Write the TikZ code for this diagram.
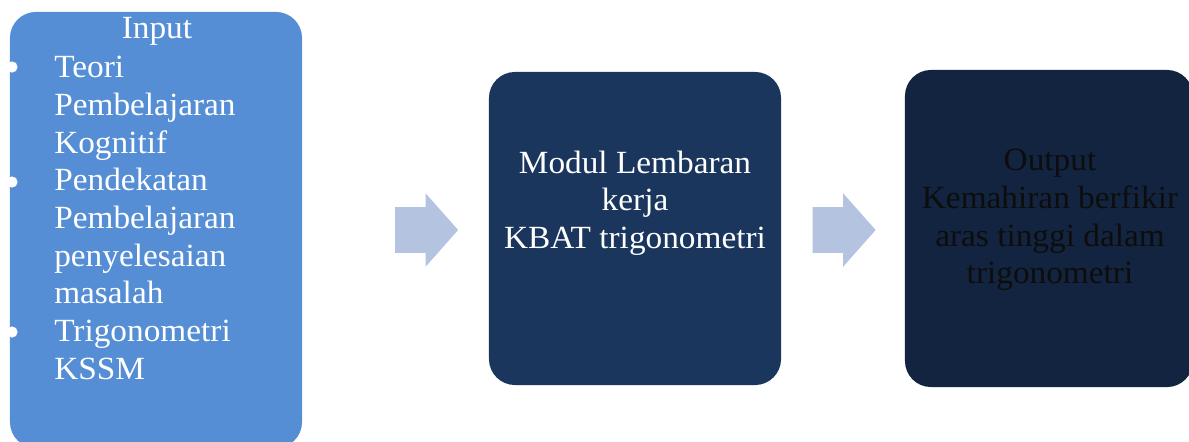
\documentclass[tikz,border=0pt]{standalone}
\usepackage{fontspec}
\setmainfont{Liberation Serif}[FakeStretch=1.03]
\usetikzlibrary{positioning,shapes.arrows}
\definecolor{inputblue}{HTML}{558ED5}
\definecolor{modulnavy}{HTML}{1B365D}
\definecolor{outputnavy}{HTML}{12243F}
\definecolor{flowblue}{HTML}{B3C3E0}
\definecolor{darktext}{HTML}{0D0D0D}

\begin{document}
\begin{tikzpicture}[
    x=0.025cm, y=-0.025cm,
    font=\fontsize{23}{26.8}\selectfont,
    stage/.style={rectangle, rounded corners=0.65cm, inner sep=0pt, draw=none},
    flow/.style={single arrow, fill=flowblue, draw=none, inner xsep=0pt, inner ysep=0.5625cm, minimum height=1.575cm, single arrow head extend=0.35cm, single arrow tip angle=97},
    dot/.style={circle, fill=white, inner sep=0pt, minimum size=0.28cm}
]
\useasboundingbox (0,0) rectangle (1189,441);

% the three stages
\node[stage, fill=inputblue, minimum width=7.3cm, minimum height=10.9cm] (Input) at (156,230) {};
\node[stage, fill=modulnavy, minimum width=7.3cm, minimum height=7.825cm] (Modul) at (635,228.5) {};
\node[stage, fill=outputnavy, minimum width=7.2cm, minimum height=7.925cm] (Output) at (1049,228.5) {};

% texts
\node[text=white] (InputTitle) at (157,31) {Input};
\node[text=white, align=left, anchor=north west, inner sep=0pt] (InputList) at (54,56) {Teori\\ Pembelajaran\\ Kognitif\\ Pendekatan\\ Pembelajaran\\ penyelesaian\\ masalah\\ Trigonometri\\ KSSM};
\node[dot] (DotA) at (12,67) {};
\node[dot] (DotB) at (12,182) {};
\node[dot] (DotC) at (12,332) {};

\node[text=white, align=center] (ModulText) at (635,203) {Modul Lembaran\\ kerja\\ KBAT trigonometri};
\node[text=darktext, align=center] (OutputText) at (1050,220) {Output\\ Kemahiran berfikir\\ aras tinggi dalam\\ trigonometri};

% arrows between stages
\node[flow] (FlowA) at (416.5,230) {};
\node[flow] (FlowB) at (834,230) {};
\end{tikzpicture}
\end{document}
